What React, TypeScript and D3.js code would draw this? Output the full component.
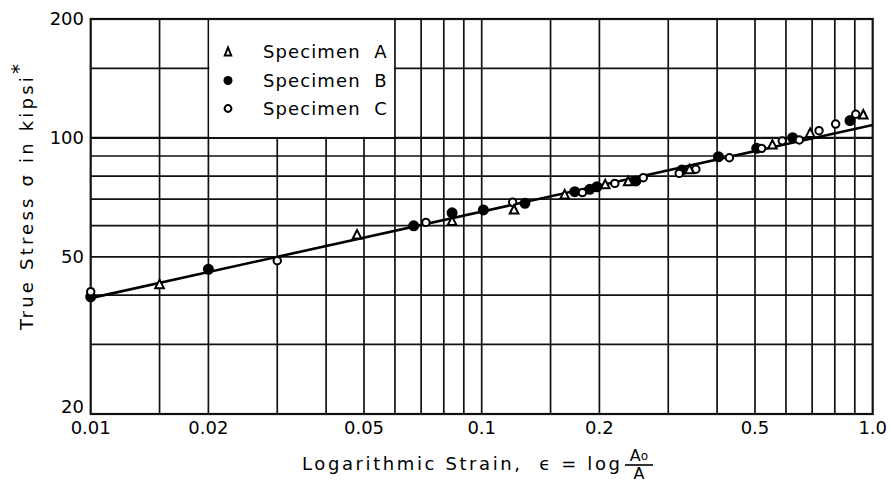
import React from "react";
import * as d3 from "d3";

const W = 891;
const H = 484;

const xTicks = [0.01, 0.02, 0.05, 0.1, 0.2, 0.5, 1.0];
const xTickLabels = ["0.01", "0.02", "0.05", "0.1", "0.2", "0.5", "1.0"];
const yTicks = [20, 50, 100, 200];
const yTickLabels = ["20", "50", "100", "200"];

const xGrid = [0.015, 0.02, 0.03, 0.04, 0.05, 0.06, 0.07, 0.08, 0.09, 0.1, 0.15, 0.2, 0.3, 0.4, 0.5, 0.6, 0.7, 0.8, 0.9];
const yGrid = [30, 40, 50, 60, 70, 80, 90, 100, 150];

// Specimen A (open triangles)
const specA: [number, number][] = [
  [0.015, 42.7], [0.048, 57.0], [0.084, 61.7], [0.121, 66.0], [0.163, 72.0],
  [0.207, 76.4], [0.237, 77.8], [0.34, 83.4], [0.554, 96.3], [0.692, 103.1], [0.946, 114.8],
];
// Specimen B (filled circles)
const specB: [number, number][] = [
  [0.01, 39.6], [0.02, 46.5], [0.067, 59.9], [0.084, 64.6], [0.101, 65.7],
  [0.129, 68.3], [0.173, 73.1], [0.189, 74.1], [0.197, 75.2], [0.248, 77.8],
  [0.325, 82.9], [0.403, 89.6], [0.505, 94.1], [0.624, 100.1], [0.875, 110.6],
];
// Specimen C (open circles)
const specC: [number, number][] = [
  [0.01, 40.8], [0.03, 48.9], [0.072, 61.1], [0.12, 68.7], [0.181, 72.7],
  [0.219, 76.7], [0.259, 79.3], [0.32, 81.3], [0.353, 83.3], [0.43, 89.1],
  [0.52, 94.1], [0.587, 98.3], [0.649, 98.8], [0.729, 104.3], [0.804, 108.4], [0.905, 114.8],
];
// Fitted straight line (log-log) end points
const fitLine: [number, number][] = [
  [0.01, 39.3],
  [1.0, 107.8],
];

const legendItems = ["Specimen  A", "Specimen  B", "Specimen  C"];

const FONT = "'DejaVu Sans', sans-serif";

function tri(cx: number, cy: number, hw: number, h: number) {
  return `M${cx},${cy - h / 2}L${cx + hw},${cy + h / 2}L${cx - hw},${cy + h / 2}Z`;
}

export default function App() {
  const x = d3.scaleLog().domain([0.01, 1]).range([90.7, 872.7]);
  const y = d3.scaleLog().domain([20, 200]).range([414, 19]);
  const line = d3
    .line<[number, number]>()
    .x((d) => x(d[0]))
    .y((d) => y(d[1]));

  const x0 = x(0.01), x1 = x(1), y0 = y(20), y1 = y(200);
  const lgL = x(0.02), lgR = x(0.06), lgB = y(100);

  return (
    <svg
      width={W}
      height={H}
      style={{ position: "absolute", left: 0, top: 0, background: "#fff" }}
      fontFamily={FONT}
    >
      <rect x={0} y={0} width={W} height={H} fill="#fff" />
      {/* grid */}
      <g stroke="#111" strokeWidth={1.7}>
        {xGrid.map((v) => (
          <line key={"x" + v} x1={x(v)} x2={x(v)} y1={y1} y2={y0} />
        ))}
        {yGrid.map((v) => (
          <line key={"y" + v} x1={x0} x2={x1} y1={y(v)} y2={y(v)} strokeWidth={v === 100 ? 2.2 : 1.7} />
        ))}
      </g>
      {/* legend blank area */}
      <rect x={lgL + 1} y={y1 + 1} width={lgR - lgL - 2} height={lgB - y1 - 2} fill="#fff" />
      {/* frame */}
      <rect x={x0} y={y1} width={x1 - x0} height={y0 - y1} fill="none" stroke="#111" strokeWidth={2.2} />

      {/* fit line */}
      <path d={line(fitLine) || ""} fill="none" stroke="#000" strokeWidth={2.6} />

      {/* data */}
      <g stroke="#000" strokeWidth={2}>
        {specB.map((d, i) => (
          <circle key={"b" + i} cx={x(d[0])} cy={y(d[1])} r={4.5} fill="#000" />
        ))}
        {specC.map((d, i) => (
          <circle key={"c" + i} cx={x(d[0])} cy={y(d[1])} r={3.7} fill="#fff" />
        ))}
        {specA.map((d, i) => (
          <path key={"a" + i} d={tri(x(d[0]), y(d[1]), 4.3, 8.5)} fill="#fff" strokeLinejoin="miter" />
        ))}
      </g>

      {/* legend */}
      <g>
        <path d={tri(228, 51.5, 3.2, 8)} fill="#fff" stroke="#000" strokeWidth={2} />
        <circle cx={228} cy={80.5} r={4.5} fill="#000" />
        <circle cx={228} cy={108.5} r={3.4} fill="#fff" stroke="#000" strokeWidth={2} />
        {legendItems.map((t, i) => (
          <text
            key={t}
            x={263}
            y={[51.5, 80.5, 108.5][i]}
            dy="0.36em"
            fontSize={18}
            letterSpacing={1.1}
            style={{ whiteSpace: "pre" }}
            fill="#000"
          >
            {t}
          </text>
        ))}
      </g>

      {/* y tick labels */}
      {yTicks.map((v, i) => (
        <text
          key={"yl" + v}
          x={84}
          y={v === 20 ? y(v) - 7 : y(v)}
          dy="0.36em"
          textAnchor="end"
          fontSize={18}
          fill="#000"
        >
          {yTickLabels[i]}
        </text>
      ))}
      {/* x tick labels */}
      {xTicks.map((v, i) => (
        <text key={"xl" + v} x={x(v)} y={434} textAnchor="middle" fontSize={18} fill="#000">
          {xTickLabels[i]}
        </text>
      ))}

      {/* y title */}
      <text
        transform="translate(33,197) rotate(-90)"
        textAnchor="middle"
        fontSize={18}
        letterSpacing={3.2}
        fill="#000"
        style={{ whiteSpace: "pre" }}
      >
        {"True Stress σ in kipsi"}
        <tspan dy={-8} fontSize={20} letterSpacing={0}>*</tspan>
      </text>

      {/* x title */}
      <text x={302} y={470} fontSize={18} letterSpacing={2.6} fill="#000" style={{ whiteSpace: "pre" }}>
        {"Logarithmic Strain,  ϵ = log"}
      </text>
      <text x={639} y={461} textAnchor="middle" fontSize={16} fill="#000">
        A<tspan fontSize={12} dy={-1}>o</tspan>
      </text>
      <line x1={625} x2={653} y1={465} y2={465} stroke="#000" strokeWidth={1.6} />
      <text x={639} y={479} textAnchor="middle" fontSize={16} fill="#000">
        A
      </text>
    </svg>
  );
}
